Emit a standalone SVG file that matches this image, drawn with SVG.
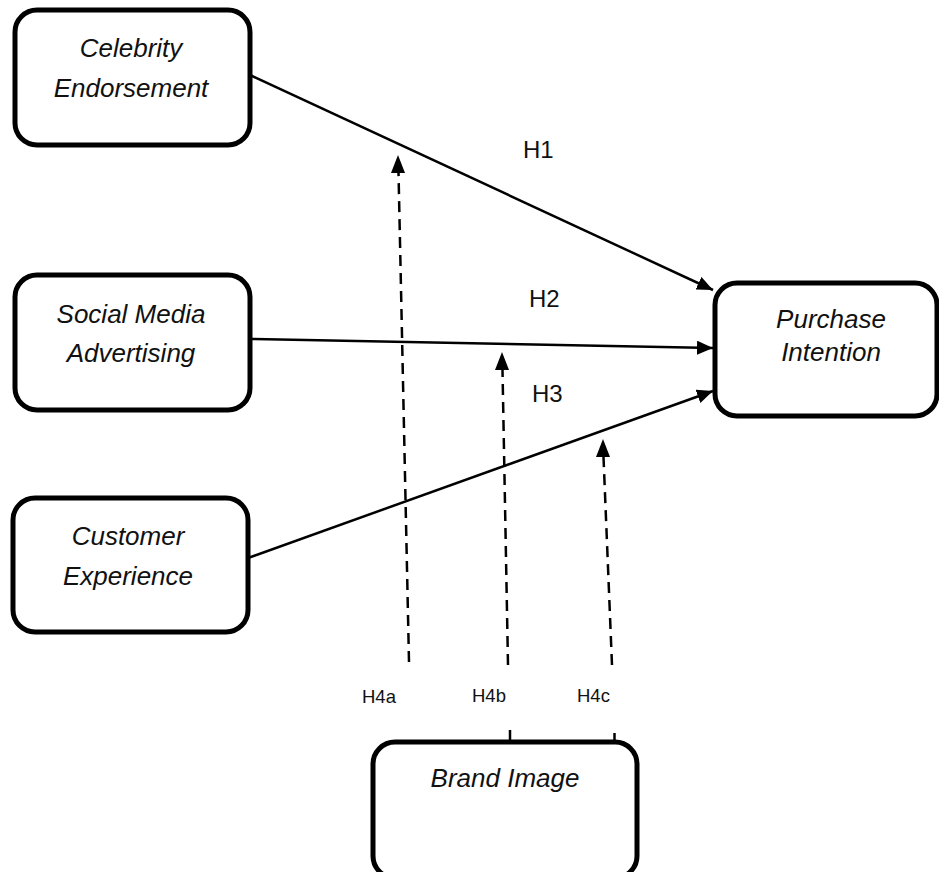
<svg xmlns="http://www.w3.org/2000/svg" width="939" height="872" viewBox="0 0 939 872">
<style>
.box{fill:#fff;stroke:#000;stroke-width:5}
.lbl{font-family:"Liberation Sans",Arial,sans-serif;font-style:italic;font-size:26px;fill:#111;text-anchor:middle}
.h{font-family:"Liberation Sans",Arial,sans-serif;font-size:24px;fill:#111}
.hs{font-family:"Liberation Sans",Arial,sans-serif;font-size:18.5px;fill:#111}
.ln{stroke:#000;stroke-width:2.5;fill:none}
.dash{stroke:#000;stroke-width:2.5;fill:none;stroke-dasharray:11 7}
</style>
<defs>
<marker id="ah" markerUnits="userSpaceOnUse" markerWidth="18" markerHeight="14" refX="16" refY="7" orient="auto">
<path d="M0,0 L16,7 L0,14 Z" fill="#000"/>
</marker>
</defs>
<rect width="939" height="872" fill="#fff"/>
<g id="connectors">
<line class="ln" x1="250" y1="75" x2="713" y2="290" marker-end="url(#ah)"/>
<line class="ln" x1="250" y1="339" x2="713" y2="348" marker-end="url(#ah)"/>
<line class="ln" x1="248" y1="558" x2="713" y2="391" marker-end="url(#ah)"/>
<line class="dash" x1="409" y1="662" x2="398.5" y2="172"/>
<path d="M398,155 L391,173 L405,173 Z" fill="#000"/>
<line class="dash" x1="508" y1="665" x2="502.5" y2="370"/>
<path d="M502,352 L495,370 L509,370 Z" fill="#000"/>
<line class="dash" x1="612" y1="665" x2="603.5" y2="457"/>
<path d="M603,439 L596,457 L610,457 Z" fill="#000"/>
<line class="ln" x1="510" y1="730" x2="510" y2="742"/>
<line class="ln" x1="614.5" y1="733" x2="614.5" y2="742"/>
</g>
<g id="labels">
<text class="h" x="523" y="158">H1</text>
<text class="h" x="529" y="307">H2</text>
<text class="h" x="532" y="402">H3</text>
<text class="hs" x="362" y="703">H4a</text>
<text class="hs" x="472" y="702">H4b</text>
<text class="hs" x="577" y="702">H4c</text>
</g>
<g id="celebrity">
<rect class="box" x="15" y="10" width="235" height="135" rx="22"/>
<text class="lbl" x="131" y="57">Celebrity</text>
<text class="lbl" x="131" y="97">Endorsement</text>
</g>
<g id="social">
<rect class="box" x="15" y="275" width="235" height="135" rx="22"/>
<text class="lbl" x="131" y="323">Social Media</text>
<text class="lbl" x="131" y="362">Advertising</text>
</g>
<g id="customer">
<rect class="box" x="13" y="498" width="235" height="134" rx="22"/>
<text class="lbl" x="128" y="545">Customer</text>
<text class="lbl" x="128" y="585">Experience</text>
</g>
<g id="purchase">
<rect class="box" x="715" y="283" width="222" height="133" rx="22"/>
<text class="lbl" x="831" y="328">Purchase</text>
<text class="lbl" x="831" y="361">Intention</text>
</g>
<g id="brand">
<rect class="box" x="373" y="742" width="264" height="136" rx="22"/>
<text class="lbl" x="505" y="787">Brand Image</text>
</g>
</svg>
